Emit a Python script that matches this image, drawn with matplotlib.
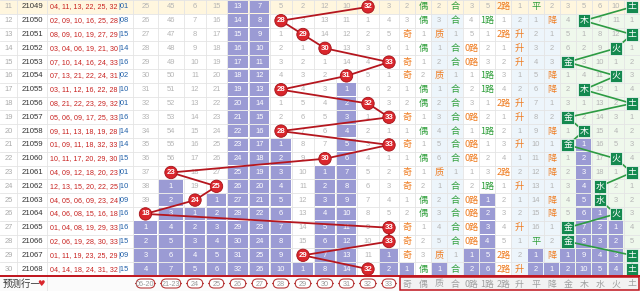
import matplotlib
matplotlib.use("Agg")
import matplotlib.pyplot as plt
from matplotlib.patches import Rectangle, Circle, FancyBboxPatch

plt.rcParams['font.family'] = ['Noto Sans CJK SC', 'DejaVu Sans']

row_ids = [11, 12, 13, 14, 15, 16, 17, 18, 19, 20, 21, 22, 23, 24, 25, 26, 27, 28, 29, 30]
issues = ['21049', '21050', '21051', '21052', '21053', '21054', '21055', '21056', '21057', '21058',
          '21059', '21060', '21061', '21062', '21063', '21064', '21065', '21066', '21067', '21068']
draws = ['04, 11, 13, 22, 25, 32', '02, 09, 10, 16, 25, 28', '08, 09, 10, 19, 27, 29',
         '03, 04, 06, 19, 21, 30', '07, 10, 14, 16, 24, 33', '07, 13, 21, 22, 24, 31',
         '03, 11, 12, 16, 22, 28', '08, 21, 22, 23, 29, 32', '05, 06, 09, 17, 25, 33',
         '09, 11, 13, 18, 19, 28', '01, 09, 11, 18, 32, 33', '10, 11, 17, 20, 29, 30',
         '04, 09, 12, 18, 20, 23', '12, 13, 15, 20, 22, 25', '04, 05, 06, 09, 23, 24',
         '04, 06, 08, 15, 16, 18', '01, 04, 08, 19, 29, 33', '02, 06, 19, 28, 30, 33',
         '01, 11, 19, 23, 25, 29', '04, 14, 18, 24, 31, 32']
blues = ['01', '08', '15', '14', '16', '02', '10', '01', '16', '14',
         '14', '15', '01', '10', '09', '16', '16', '15', '09', '15']
max_ball = [32, 28, 29, 30, 33, 31, 28, 32, 33, 28, 33, 30, 23, 25, 24, 18, 33, 33, 29, 32]

num_labels = ['06-20', '21-23', '24', '25', '26', '27', '28', '29', '30', '31', '32', '33']
# omission counts, 0 = the ball of that row
omit = [
    [25, 45, 6, 15, 13, 7, 5, 2, 12, 10, 0, 3],
    [26, 46, 7, 16, 14, 8, 0, 3, 13, 11, 1, 4],
    [27, 47, 8, 17, 15, 9, 1, 0, 14, 12, 2, 5],
    [28, 48, 9, 18, 16, 10, 2, 1, 0, 13, 3, 6],
    [29, 49, 10, 19, 17, 11, 3, 2, 1, 14, 4, 0],
    [30, 50, 11, 20, 18, 12, 4, 3, 2, 0, 5, 1],
    [31, 51, 12, 21, 19, 13, 0, 4, 3, 1, 6, 2],
    [32, 52, 13, 22, 20, 14, 1, 5, 4, 2, 0, 3],
    [33, 53, 14, 23, 21, 15, 2, 6, 5, 3, 1, 0],
    [34, 54, 15, 24, 22, 16, 0, 7, 6, 4, 2, 1],
    [35, 55, 16, 25, 23, 17, 1, 8, 7, 5, 3, 0],
    [36, 56, 17, 26, 24, 18, 2, 9, 0, 6, 4, 1],
    [37, 0, 18, 27, 25, 19, 3, 10, 1, 7, 5, 2],
    [38, 1, 19, 0, 26, 20, 4, 11, 2, 8, 6, 3],
    [39, 2, 0, 1, 27, 21, 5, 12, 3, 9, 7, 4],
    [0, 3, 1, 2, 28, 22, 6, 13, 4, 10, 8, 5],
    [1, 4, 2, 3, 29, 23, 7, 14, 5, 11, 9, 0],
    [2, 5, 3, 4, 30, 24, 8, 15, 6, 12, 10, 0],
    [3, 6, 4, 5, 31, 25, 9, 0, 7, 13, 11, 1],
    [4, 7, 5, 6, 32, 26, 10, 1, 8, 14, 0, 2],
]

attr_labels = ['奇', '偶', '质', '合', '0路', '1路', '2路', '升', '平', '降', '金', '木', '水', '火', '土']
# 0 = hit
attr = [
    [2, 0, 2, 0, 3, 5, 0, 1, 0, 2, 3, 5, 6, 10, 0],
    [3, 0, 3, 0, 4, 0, 1, 2, 1, 0, 4, 0, 7, 11, 1],
    [0, 1, 0, 1, 5, 1, 0, 0, 2, 1, 5, 1, 8, 12, 0],
    [1, 0, 1, 0, 0, 2, 1, 0, 3, 2, 6, 2, 9, 0, 1],
    [0, 1, 2, 0, 0, 3, 2, 0, 4, 3, 0, 3, 10, 1, 2],
    [0, 2, 0, 1, 1, 0, 3, 1, 5, 0, 1, 4, 11, 0, 3],
    [1, 0, 1, 0, 2, 0, 4, 2, 6, 0, 2, 0, 12, 1, 4],
    [2, 0, 2, 0, 3, 1, 0, 0, 7, 1, 3, 1, 13, 2, 0],
    [0, 1, 3, 0, 0, 2, 1, 0, 8, 2, 0, 2, 14, 3, 1],
    [1, 0, 4, 0, 1, 0, 2, 1, 9, 0, 1, 0, 15, 4, 2],
    [0, 1, 5, 0, 0, 1, 3, 0, 10, 1, 0, 1, 16, 5, 3],
    [1, 0, 6, 0, 0, 2, 4, 1, 11, 0, 1, 2, 17, 0, 4],
    [0, 1, 0, 1, 1, 3, 0, 2, 12, 0, 2, 3, 18, 1, 0],
    [0, 2, 1, 0, 2, 0, 1, 0, 13, 1, 3, 4, 0, 2, 1],
    [1, 0, 2, 0, 0, 1, 2, 1, 14, 0, 4, 5, 0, 3, 2],
    [2, 0, 3, 0, 0, 2, 3, 2, 15, 0, 5, 6, 1, 0, 3],
    [0, 1, 4, 0, 0, 3, 4, 0, 16, 1, 0, 7, 2, 1, 4],
    [0, 2, 5, 0, 0, 4, 5, 1, 0, 2, 0, 8, 3, 2, 5],
    [0, 3, 0, 1, 1, 5, 0, 2, 1, 0, 1, 9, 4, 3, 0],
    [1, 0, 1, 0, 2, 6, 0, 0, 2, 1, 2, 10, 5, 4, 0],
]

ORANGE = '#ef7d22'
GREEN = '#2f9f3a'
attr_colors = [ORANGE, GREEN, ORANGE, GREEN, ORANGE, GREEN, ORANGE, ORANGE, GREEN, ORANGE]
PURPLE = '#9b9bd4'
GRID = '#e4e4e4'

fig = plt.figure(figsize=(6.4, 2.91), dpi=100)
ax = fig.add_axes([0, 0, 1, 1])
ax.set_xlim(0, 640)
ax.set_ylim(291, 0)
ax.axis('off')

RH = 13.8
n = len(row_ids)
FOOT = RH * n
left_x = [0, 17, 47, 133]
num_x = [133, 158, 184, 206, 227, 249, 270, 292, 314, 336, 357, 379, 399]
att_x = [399 + 16.07 * k for k in range(16)]


def cy(i):
    return RH * i + RH / 2


def after_last_hit(grid, ncol):
    # cells of the current (still open) omission streak
    flags = [[False] * ncol for _ in grid]
    for c in range(ncol):
        last = -1
        for r in range(len(grid)):
            if grid[r][c] == 0:
                last = r
        for r in range(last + 1, len(grid)):
            flags[r][c] = True
    return flags


# column backgrounds on the right
bands = {2: '#edf5fb', 3: '#edf5fb', 7: '#edf5fb', 8: '#edf5fb', 9: '#edf5fb',
         10: '#eff8ec', 11: '#eff8ec', 12: '#eff8ec', 13: '#eff8ec', 14: '#eff8ec'}
for c, col in bands.items():
    ax.add_patch(Rectangle((att_x[c], 0), att_x[c + 1] - att_x[c], FOOT, fc=col, ec='none', zorder=0))
# highlighted first row
ax.add_patch(Rectangle((0, 0), 640, RH, fc='#fff6de', ec='none', zorder=0.5))

# purple streak cells
pn = after_last_hit(omit, 12)
pa = after_last_hit(attr, 15)
for r in range(n):
    for c in range(12):
        if pn[r][c]:
            ax.add_patch(Rectangle((num_x[c] + 0.6, RH * r + 0.6), num_x[c + 1] - num_x[c] - 1.2, RH - 1.2,
                                   fc=PURPLE, ec='none', zorder=1))
    for c in range(15):
        if pa[r][c]:
            ax.add_patch(Rectangle((att_x[c] + 0.6, RH * r + 0.6), att_x[c + 1] - att_x[c] - 1.2, RH - 1.2,
                                   fc=PURPLE, ec='none', zorder=1))

# grid lines
for r in range(n + 1):
    ax.plot([0, 640], [RH * r, RH * r], color=GRID, lw=0.6, zorder=0.8)
for x in left_x[1:] + num_x[1:] + att_x[1:-1]:
    ax.plot([x, x], [0, FOOT], color=GRID, lw=0.6, zorder=0.8)

fs = 5.4
for r in range(n):
    y = cy(r)
    ax.text(8.5, y, str(row_ids[r]), color='#aaaaaa', fontsize=fs, ha='center', va='center',
            family='Liberation Sans')
    ax.text(32, y, issues[r], color='#333333', fontsize=5.6, ha='center', va='center',
            family='Liberation Sans')
    ax.text(117.5, y, draws[r], color='#c8201e', fontsize=5.15, ha='right', va='center',
            family='Liberation Sans')
    ax.text(118, y, '|' + blues[r], color='#1f5fa8', fontsize=5.4, ha='left', va='center',
            family='Liberation Sans')
    for c in range(12):
        v = omit[r][c]
        if v == 0:
            continue
        ax.text((num_x[c] + num_x[c + 1]) / 2, y, str(v), fontsize=fs, ha='center', va='center',
                color='white' if pn[r][c] else '#b4b4b4', zorder=2, family='Liberation Sans')
    for c in range(15):
        v = attr[r][c]
        xc = (att_x[c] + att_x[c + 1]) / 2
        if v == 0:
            if c < 10:
                ax.text(xc, y, attr_labels[c], fontsize=6.6, ha='center', va='center',
                        color=attr_colors[c], zorder=2)
        else:
            ax.text(xc, y, str(v), fontsize=fs, ha='center', va='center',
                    color='white' if pa[r][c] else '#b4b4b4', zorder=2, family='Liberation Sans')

# red ball trend line
bx = []
by = []
for r in range(n):
    c = omit[r].index(0)
    bx.append((num_x[c] + num_x[c + 1]) / 2)
    by.append(cy(r))
ax.plot(bx, by, color='#b5161e', lw=1.3, zorder=3)
for r in range(n):
    ax.add_patch(Circle((bx[r], by[r]), 6.2, fc='#d9262c', ec='#a51218', lw=0.6, zorder=4))
    ax.text(bx[r], by[r], str(max_ball[r]), color='white', fontsize=5.6, ha='center', va='center',
            zorder=5, family='Liberation Sans', weight='bold')

# five element trend
ex = []
ey = []
for r in range(n):
    c = 10 + attr[r][10:].index(0)
    ex.append((att_x[c] + att_x[c + 1]) / 2)
    ey.append(cy(r))
ax.plot(ex, ey, color='#2d9b43', lw=1.2, zorder=3)
for r in range(n):
    c = 10 + attr[r][10:].index(0)
    ax.add_patch(Rectangle((ex[r] - 6.3, ey[r] - 6.3), 12.6, 12.6, fc='#14894f', ec='white', lw=0.5, zorder=4))
    ax.text(ex[r], ey[r], attr_labels[c], color='white', fontsize=6.4, ha='center', va='center', zorder=5)

# footer
ax.add_patch(Rectangle((0, FOOT), 640, 291 - FOOT, fc='#fbfbfb', ec='none', zorder=0))
ax.plot([0, 640], [FOOT, FOOT], color='#c0141c', lw=1.4, zorder=6)
fy = (FOOT + 291) / 2 + 0.5
ax.text(3, fy, '预测行一', fontsize=6.8, color='#333333', ha='left', va='center')
ax.text(37, fy, '♥', fontsize=6, color='#d9262c', ha='left', va='center', family=['DejaVu Sans'])
ax.plot([47, 47], [FOOT, 291], color=GRID, lw=0.6)
for c in range(12):
    x0 = num_x[c] + 1.2
    w = num_x[c + 1] - num_x[c] - 2.4
    ax.add_patch(FancyBboxPatch((x0 + 2, FOOT + 3), w - 4, 291 - FOOT - 6,
                                boxstyle='round,pad=0,rounding_size=5', fc='white', ec='#b83a3a', lw=0.8, zorder=6))
    ax.text(num_x[c] + (num_x[c + 1] - num_x[c]) / 2, fy, num_labels[c], fontsize=5.2, color='#999999',
            ha='center', va='center', zorder=7, family='Liberation Sans')
ax.add_patch(Rectangle((att_x[0] + 0.5, FOOT + 1), 640 - att_x[0] - 1.5, 291 - FOOT - 2,
                       fc='#f2f2f2', ec='#c0141c', lw=1.1, zorder=6))
for c in range(15):
    ax.text((att_x[c] + att_x[c + 1]) / 2, fy, attr_labels[c], fontsize=6.4, color='#a0a0a0',
            ha='center', va='center', zorder=7)

fig.savefig('out.png', dpi=100)
